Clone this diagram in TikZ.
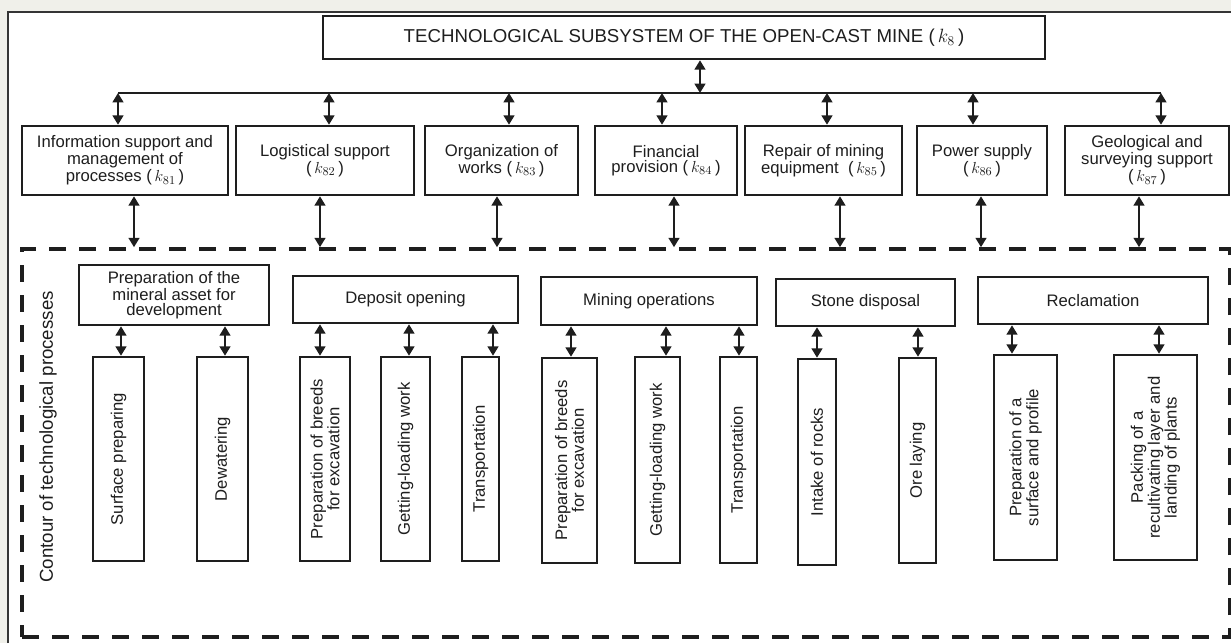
\documentclass[tikz,border=0pt]{standalone}
\usepackage{fontspec}
\setmainfont{Liberation Sans}
\usetikzlibrary{arrows.meta}
\definecolor{bgout}{HTML}{F0F0EA}
\definecolor{ink}{HTML}{1E1E1E}
\begin{document}
\begin{tikzpicture}[x=0.75pt,y=-0.75pt,
  sz/.style 2 args={minimum width=#1*0.75pt, minimum height=#2*0.75pt},
  box/.style={draw=ink, line width=1.9pt, fill=white, inner sep=0pt, align=center,
    text=ink, font=\fontsize{12.5}{11.6}\selectfont},
  vbox/.style={box, rotate=90},
  dar/.style={{Triangle[length=7pt,width=8pt]}-{Triangle[length=7pt,width=8pt]}, line width=1.6pt, draw=ink},
  cont/.style={draw=ink, line width=2.7pt, dash pattern=on 12.5pt off 10pt, inner sep=0pt}
]
\useasboundingbox (0,0) rectangle (1231,643);
\fill[bgout] (0,0) rectangle (1231,643);
\fill[white] (8,12) rectangle (1231,643);
\draw[ink!90, line width=1.8pt] (8,643) -- (8,12) -- (1231,12);

% dashed contour
\node[cont, sz={1208}{388}] (contour) at (626,443) {};
\node[rotate=90, text=ink, font=\fontsize{14}{14}\selectfont] (clabel) at (48,437) {Contour of technological processes};

% top
\node[box, sz={722}{43}, font=\fontsize{14}{14}\selectfont] (top) at (684,37.5)
  {TECHNOLOGICAL SUBSYSTEM OF THE OPEN-CAST MINE (\,$k_{8}$\,)};

% second row
\node[box, sz={206}{69}] (k81) at (125,160.5) {Information support and\\management of\\processes (\,$k_{81}$\,)};
\node[box, sz={178}{69}] (k82) at (325,160.5) {Logistical support\\(\,$k_{82}$\,)};
\node[box, sz={153}{69}] (k83) at (501.5,160.5) {Organization of\\works (\,$k_{83}$\,)};
\node[box, sz={142}{69}] (k84) at (666,160.5) {Financial\\provision (\,$k_{84}$\,)};
\node[box, sz={157}{69}] (k85) at (823.5,160.5) {Repair of mining\\equipment\; (\,$k_{85}$\,)};
\node[box, sz={130}{69}] (k86) at (982,160.5) {Power supply\\(\,$k_{86}$\,)};
\node[box, sz={164}{69}] (k87) at (1147,160.5) {Geological and\\surveying support\\(\,$k_{87}$\,)};

% bus
\coordinate (t0) at (700,93);
\coordinate (b1) at (118,93);
\coordinate (b2) at (329,93);
\coordinate (b3) at (509,93);
\coordinate (b4) at (662,93);
\coordinate (b5) at (827,93);
\coordinate (b6) at (973,93);
\coordinate (b7) at (1161,93);
\draw[ink, line width=1.6pt] (b1) -- (b7);
\draw[dar] (top.south -| t0) -- (t0);
\foreach \i in {1,...,7} \draw[dar] (b\i) -- (k8\i.north -| b\i);

% second row to contour
\coordinate (u1) at (134,0);
\coordinate (u2) at (320,0);
\coordinate (u3) at (497,0);
\coordinate (u4) at (674,0);
\coordinate (u5) at (840,0);
\coordinate (u6) at (981,0);
\coordinate (u7) at (1139,0);
\foreach \i in {1,...,7} \draw[dar] (k8\i.south -| u\i) -- (contour.north -| u\i);

% third row
\node[box, sz={190}{60}] (P) at (174,295) {Preparation of the\\mineral asset for\\development};
\node[box, sz={225}{47}] (D) at (405.5,299.5) {Deposit opening};
\node[box, sz={216}{48}] (M) at (649,301) {Mining operations};
\node[box, sz={179}{47}] (S) at (865.5,302.5) {Stone disposal};
\node[box, sz={230}{47}] (R) at (1093,300.5) {Reclamation};

% bottom boxes
\node[vbox, sz={204}{51}] (a) at (118.5,459) {Surface preparing};
\node[vbox, sz={204}{51}] (b) at (222.5,459) {Dewatering};
\node[vbox, sz={204}{50}] (c) at (325,459) {Preparation of breeds\\for excavation};
\node[vbox, sz={204}{49}] (d) at (405.5,459) {Getting-loading work};
\node[vbox, sz={204}{37}] (e) at (480.5,459) {Transportation};
\node[vbox, sz={205}{55}] (f) at (569.5,460.5) {Preparation of breeds\\for excavation};
\node[vbox, sz={206}{45}] (g) at (657.5,460) {Getting-loading work};
\node[vbox, sz={206}{37}] (h) at (738.5,460) {Transportation};
\node[vbox, sz={206}{38}] (i) at (817,462) {Intake of rocks};
\node[vbox, sz={205}{37}] (j) at (917.5,460.5) {Ore laying};
\node[vbox, sz={205}{63}] (k) at (1025.5,457.5) {Preparation of a\\surface and profile};
\node[vbox, sz={205}{83}] (l) at (1155.5,457.5) {Packing of a\\recultivating layer and\\landing of plants};

\foreach \p/\c/\x in {P/a/121, P/b/225, D/c/320, D/d/409, D/e/493, M/f/571, M/g/666, M/h/739, S/i/817, S/j/918, R/k/1012, R/l/1159} {
  \coordinate (x\c) at (\x,0);
  \draw[dar] (\p.south -| x\c) -- (\c.east -| x\c);
}
\end{tikzpicture}
\end{document}
